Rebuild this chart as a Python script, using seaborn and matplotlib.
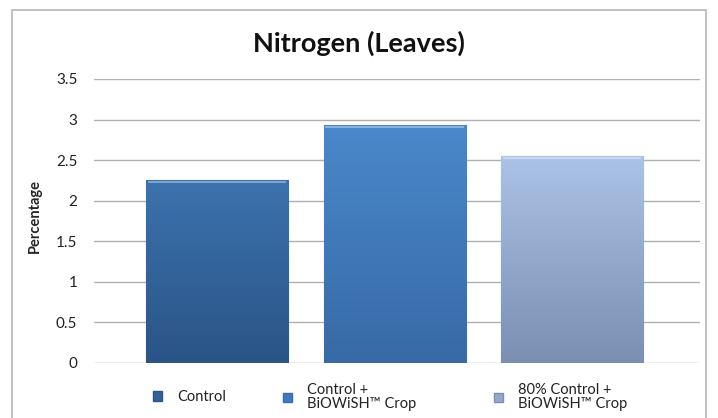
#!/usr/bin/env python3
"""
Nitrogen (Leaves) bar chart
"""

import numpy as np
import pandas as pd
import matplotlib
matplotlib.use('Agg')
import matplotlib.pyplot as plt
from matplotlib.patches import Rectangle, Patch
from matplotlib.colors import LinearSegmentedColormap
import seaborn as sns

# Data
categories = ['Control', 'Control +\nBiOWiSH\u2122 Crop', '80% Control +\nBiOWiSH\u2122 Crop']
values = [2.25, 2.93, 2.55]
yticks = [0, 0.5, 1, 1.5, 2, 2.5, 3, 3.5]
ytick_labels = ['0', '0.5', '1', '1.5', '2', '2.5', '3', '3.5']

# top / bottom colours of each bar's gradient
top_colors = ['#3c72ae', '#4a88cb', '#abc3e6']
bottom_colors = ['#2a5486', '#376aa6', '#7a8fb2']
mid_colors = ['#336399', '#4079bb', '#93a9cc']

# legend marker x positions (figure pixels), Excel-style uneven spacing
legend_x = [153, 283, 494]

sns.set_theme(style='white')
plt.rcParams['font.family'] = ['Lato', 'DejaVu Sans']

fig = plt.figure(figsize=(7.18, 4.18), dpi=100)
ax = fig.add_axes([94 / 718, 1 - 362.7 / 418, 606 / 718, 283.7 / 418])

df = pd.DataFrame({'group': categories, 'value': values})
sns.barplot(data=df, x='group', y='value', hue='group', palette=mid_colors,
            width=0.8, legend=False, ax=ax, zorder=3)

# gradient fill clipped to each bar
for patch, top, bot in zip(ax.patches, top_colors, bottom_colors):
    x0, y0 = patch.get_x(), patch.get_y()
    w, h = patch.get_width(), patch.get_height()
    cmap = LinearSegmentedColormap.from_list('g', [bot, top])
    grad = np.linspace(0, 1, 256).reshape(-1, 1)
    im = ax.imshow(grad, cmap=cmap, aspect='auto', origin='lower',
                   extent=[x0, x0 + w, y0, y0 + h], zorder=4)
    im.set_clip_path(patch)
    patch.set_edgecolor(bot)
    patch.set_linewidth(0.8)
    # light bevel on top edge
    ax.plot([x0 + 0.01, x0 + w - 0.01], [h - 0.02, h - 0.02], color='white',
            alpha=0.35, lw=1.5, zorder=5, solid_capstyle='butt')

ax.set_xlim(-0.693, 2.721)
ax.set_ylim(0, 3.5)
ax.set_yticks(yticks)
ax.set_yticklabels(ytick_labels, fontsize=11, color='#222222')
ax.set_xticks([])
ax.set_xlabel('')
ax.set_ylabel('Percentage', fontsize=10.5, fontweight='bold')
ax.yaxis.set_label_coords(-0.086, 0.517)
ax.yaxis.grid(True, color='#b0b0b0', lw=1)
ax.set_axisbelow(True)
ax.tick_params(axis='y', length=0, pad=12)
for s in ax.spines.values():
    s.set_visible(False)
ax.set_aspect('auto')

fig.text(0.5, 1 - 43 / 418, 'Nitrogen (Leaves)', ha='center', va='center',
         fontsize=19.5, fontweight='bold', color='#111111')

# outer chart border
fig.patches.append(Rectangle((12 / 718, -0.05), 694 / 718, 1.05 - 10 / 418,
                             transform=fig.transFigure, fill=False,
                             edgecolor='#b5b5b5', lw=1.2))

# one legend entry per column, placed like the original
for label, c, b, lx in zip(categories, mid_colors, bottom_colors, legend_x):
    leg = fig.legend([Patch(facecolor=c, edgecolor=b)], [label], loc='center left',
                     bbox_to_anchor=(lx / 718, 1 - 397 / 418), frameon=False,
                     fontsize=10.5, handlelength=0.65, handleheight=0.65,
                     handletextpad=1.0, borderpad=0, borderaxespad=0)
    for t in leg.get_texts():
        t.set_color('#222222')
        t.set_linespacing(1.05)

fig.savefig('out.png', dpi=100)
